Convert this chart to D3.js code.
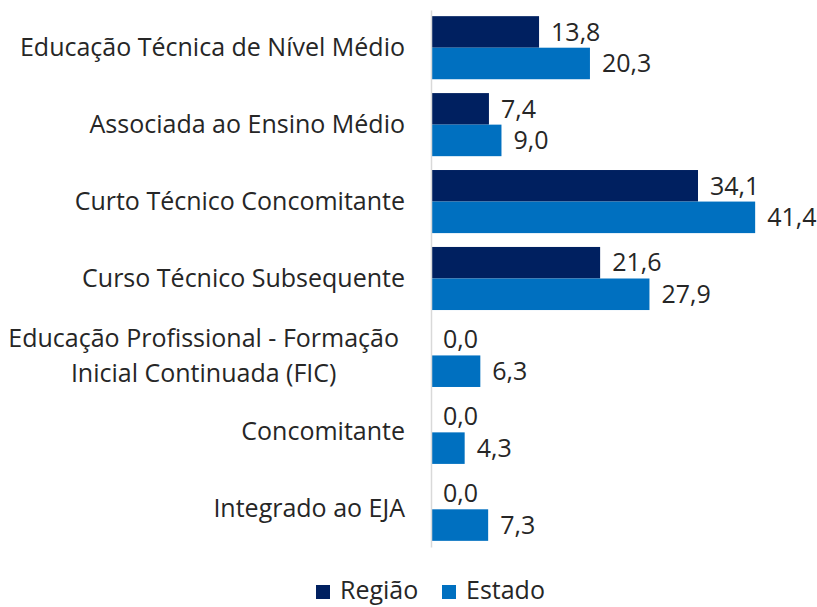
<!DOCTYPE html>
<html>
<head>
<meta charset="utf-8">
<script src="https://cdn.jsdelivr.net/npm/d3@7"></script>
<style>
  body { margin: 0; background: #fff; }
  svg text { font-family: "Open Sans", "Noto Sans", sans-serif; fill: #262626; }
</style>
</head>
<body>
<svg class="chart" width="817" height="607"></svg>
<script>
const categories = [
  "Educação Técnica de Nível Médio",
  "Associada ao Ensino Médio",
  "Curto Técnico Concomitante",
  "Curso Técnico Subsequente",
  "Educação Profissional - Formação\nInicial Continuada (FIC)",
  "Concomitante",
  "Integrado ao EJA"
];
const regiao = [13.8, 7.4, 34.1, 21.6, 0.0, 0.0, 0.0];
const estado = [20.3, 9.0, 41.4, 27.9, 6.3, 4.3, 7.3];
const seriesNames = ["Região", "Estado"];
const colors = ["#002060", "#0070c0"];

const svg = d3.select(".chart");
const fontSize = 25;
const axisX = 431;

const data = categories.map((c, i) => ({ cat: c, values: [regiao[i], estado[i]] }));

const yScale = d3.scaleBand()
  .domain(categories)
  .range([10, 547])
  .paddingInner(0.18)
  .paddingOuter(0.08);

const ySub = d3.scaleBand()
  .domain(seriesNames)
  .range([0, yScale.bandwidth()]);

const xScale = d3.scaleLinear()
  .domain([0, 45])
  .range([axisX, axisX + 45 * 7.83]);

const fmt = d3.formatLocale({ decimal: ",", thousands: ".", grouping: [3], currency: ["", ""] }).format(".1f");

// bars
const groups = svg.selectAll("g.group").data(data)
  .enter().append("g")
    .attr("class", "group")
    .attr("transform", d => `translate(0,${yScale(d.cat)})`);

groups.selectAll("rect").data(d => d.values.map((v, j) => ({ v, s: seriesNames[j], j })))
  .enter().append("rect")
    .attr("x", xScale(0))
    .attr("y", d => ySub(d.s))
    .attr("width", d => xScale(d.v) - xScale(0))
    .attr("height", ySub.bandwidth())
    .attr("fill", d => colors[d.j]);

groups.selectAll("text.val").data(d => d.values.map((v, j) => ({ v, s: seriesNames[j] })))
  .enter().append("text")
    .attr("class", "val")
    .attr("x", d => xScale(d.v) + 12)
    .attr("y", d => ySub(d.s) + ySub.bandwidth() / 2)
    .attr("dy", "0.35em")
    .style("font-size", fontSize + "px")
    .text(d => fmt(d.v));

// category axis
const axis = svg.append("g")
  .attr("transform", `translate(${axisX},0)`)
  .call(d3.axisLeft(yScale).tickSize(0).tickPadding(26));

axis.attr("font-family", null).attr("font-size", null);
axis.select(".domain").attr("stroke", "#d9d9d9").attr("stroke-width", 1.5);
axis.selectAll(".tick text")
  .style("font-size", fontSize + "px")
  .attr("fill", "#262626")
  .each(function (d) {
    const lines = d.split("\n");
    if (lines.length < 2) return;
    const t = d3.select(this).text(null).attr("dy", null);
    lines.forEach(l => t.append("tspan").text(l));
    const widths = t.selectAll("tspan").nodes().map(n => n.getComputedTextLength());
    const w = d3.max(widths);
    const cx = -32 - w / 2;
    const lh = 35;
    t.attr("text-anchor", "middle");
    t.selectAll("tspan")
      .attr("x", cx)
      .attr("y", (l, k) => (k - (lines.length - 1) / 2) * lh)
      .attr("dy", "0.35em");
  });

// legend
const legend = svg.append("g").attr("transform", "translate(316,585)");
seriesNames.forEach((name, i) => {
  const item = legend.append("g").attr("transform", `translate(${i * 126},0)`);
  item.append("rect").attr("width", 14).attr("height", 14).attr("fill", colors[i]);
  item.append("text")
    .attr("x", 24)
    .attr("y", 5)
    .attr("dy", "0.35em")
    .style("font-size", fontSize + "px")
    .text(name);
});
</script>
</body>
</html>
